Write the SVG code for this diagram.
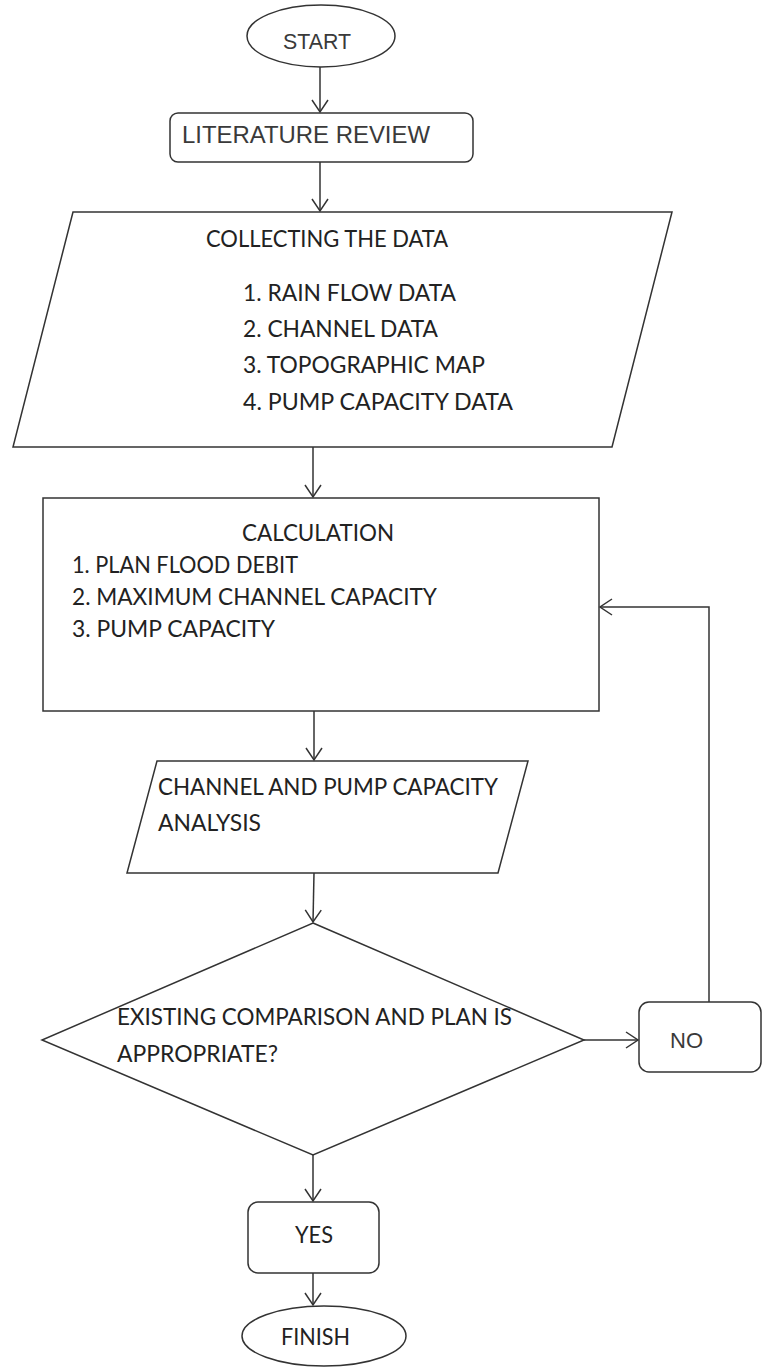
<svg xmlns="http://www.w3.org/2000/svg" width="763" height="1367" viewBox="0 0 763 1367">
  <defs>
    <style>
      .shape { fill: #ffffff; stroke: #333333; stroke-width: 1.5; }
      .conn { fill: none; stroke: #333333; stroke-width: 1.5; }
      .sans { font-family: "Liberation Sans", Arial, sans-serif; fill: #3a3a3a; }
      .body { font-family: Lato, "Open Sans", sans-serif; font-size: 23.5px; fill: #222222; }
    </style>
    <marker id="arrow" markerUnits="userSpaceOnUse" markerWidth="30" markerHeight="30" refX="0" refY="0" viewBox="-15 -15 30 30" orient="auto" overflow="visible">
      <path d="M-12,-8 L0,0 L-12,8" fill="none" stroke="#333333" stroke-width="1.5"/>
    </marker>
  </defs>
  <rect width="763" height="1367" fill="#ffffff"/>

  <g id="start">
    <ellipse class="shape" cx="321" cy="36" rx="74" ry="31"/>
    <text class="sans" x="283" y="49" font-size="22" textLength="68" lengthAdjust="spacingAndGlyphs">START</text>
  </g>

  <g id="literature-review">
    <rect class="shape" x="170" y="113" width="303" height="49" rx="8"/>
    <text class="sans" x="182" y="143" font-size="23.5" textLength="248" lengthAdjust="spacingAndGlyphs">LITERATURE REVIEW</text>
  </g>

  <g id="collecting-data">
    <polygon class="shape" points="73,212 672,212 612,447 13,447"/>
    <text class="body" x="206" y="247" textLength="242" lengthAdjust="spacingAndGlyphs">COLLECTING THE DATA</text>
    <text class="body" x="243" y="301" textLength="213" lengthAdjust="spacingAndGlyphs">1. RAIN FLOW DATA</text>
    <text class="body" x="243" y="337" textLength="195" lengthAdjust="spacingAndGlyphs">2. CHANNEL DATA</text>
    <text class="body" x="243" y="373" textLength="242" lengthAdjust="spacingAndGlyphs">3. TOPOGRAPHIC MAP</text>
    <text class="body" x="243" y="410" textLength="270" lengthAdjust="spacingAndGlyphs">4. PUMP CAPACITY DATA</text>
  </g>

  <g id="calculation">
    <rect class="shape" x="43" y="498" width="556" height="213"/>
    <text class="body" x="242" y="541" textLength="152" lengthAdjust="spacingAndGlyphs">CALCULATION</text>
    <text class="body" x="72" y="573" textLength="226" lengthAdjust="spacingAndGlyphs">1. PLAN FLOOD DEBIT</text>
    <text class="body" x="72" y="605" textLength="365" lengthAdjust="spacingAndGlyphs">2. MAXIMUM CHANNEL CAPACITY</text>
    <text class="body" x="72" y="637" textLength="203" lengthAdjust="spacingAndGlyphs">3. PUMP CAPACITY</text>
  </g>

  <g id="capacity-analysis">
    <polygon class="shape" points="157,761 528,761 498,873 127,873"/>
    <text class="body" x="158" y="795" textLength="340" lengthAdjust="spacingAndGlyphs">CHANNEL AND PUMP CAPACITY</text>
    <text class="body" x="158" y="831" textLength="103" lengthAdjust="spacingAndGlyphs">ANALYSIS</text>
  </g>

  <g id="decision">
    <polygon class="shape" points="313,923 584,1040 313,1155 42,1040"/>
    <text class="body" x="117" y="1025" textLength="395" lengthAdjust="spacingAndGlyphs">EXISTING COMPARISON AND PLAN IS</text>
    <text class="body" x="117" y="1062" textLength="161" lengthAdjust="spacingAndGlyphs">APPROPRIATE?</text>
  </g>

  <g id="no">
    <rect class="shape" x="639" y="1002" width="122" height="70" rx="10"/>
    <text class="sans" x="670" y="1048" font-size="22" textLength="33" lengthAdjust="spacingAndGlyphs">NO</text>
  </g>

  <g id="yes">
    <rect class="shape" x="248" y="1202" width="131" height="71" rx="10"/>
    <text class="body" x="295" y="1243" textLength="38" lengthAdjust="spacingAndGlyphs">YES</text>
  </g>

  <g id="finish">
    <ellipse class="shape" cx="324" cy="1336" rx="82" ry="30"/>
    <text class="body" x="281" y="1345" textLength="69" lengthAdjust="spacingAndGlyphs">FINISH</text>
  </g>

  <!-- flow lines drawn last so arrowheads sit on top of the shape borders -->
  <g id="connectors">
    <line class="conn" x1="320" y1="67" x2="320" y2="112" marker-end="url(#arrow)"/>
    <line class="conn" x1="320" y1="162" x2="320" y2="211" marker-end="url(#arrow)"/>
    <line class="conn" x1="313" y1="447" x2="313" y2="497" marker-end="url(#arrow)"/>
    <line class="conn" x1="314" y1="711" x2="314" y2="760" marker-end="url(#arrow)"/>
    <line class="conn" x1="314" y1="873" x2="313" y2="922" marker-end="url(#arrow)"/>
    <line class="conn" x1="584" y1="1040" x2="638" y2="1040" marker-end="url(#arrow)"/>
    <polyline class="conn" points="709,1002 709,607 600,607" marker-end="url(#arrow)"/>
    <line class="conn" x1="313" y1="1155" x2="313" y2="1201" marker-end="url(#arrow)"/>
    <line class="conn" x1="313" y1="1273" x2="313" y2="1305" marker-end="url(#arrow)"/>
  </g>
</svg>
